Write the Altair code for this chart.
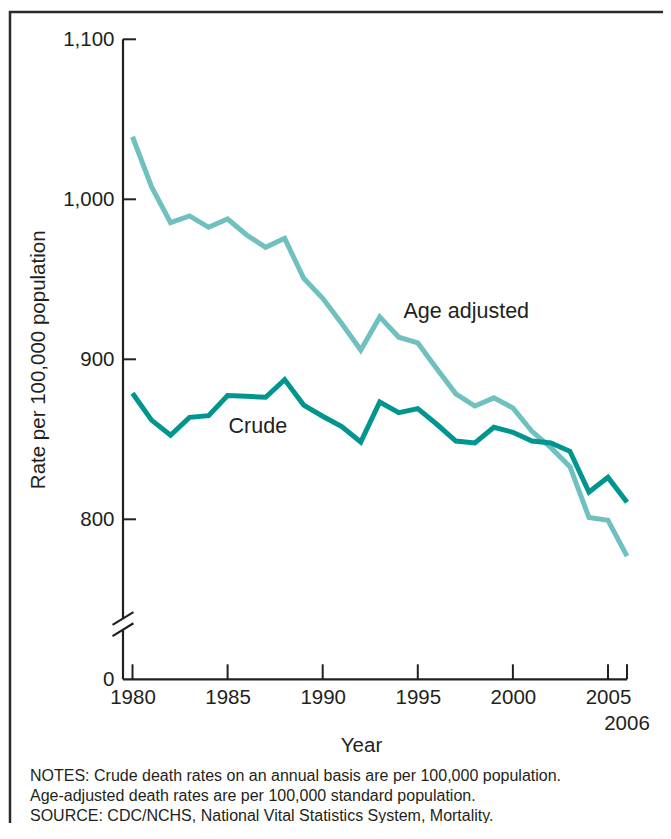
import altair as alt
import pandas as pd

# ---------------- data ----------------
years = list(range(1980, 2007))
age_adjusted = [1039.1, 1007.9, 985.4, 989.6, 982.5, 987.7, 977.7, 970.0, 975.6, 950.6,
                938.1, 922.3, 905.8, 926.5, 913.8, 910.2, 894.1, 878.4, 870.8, 875.9,
                869.6, 855.0, 844.8, 832.9, 801.2, 799.4, 777.0]
crude = [878.8, 862.0, 852.5, 863.7, 864.8, 877.3, 876.9, 876.3, 887.3, 871.4,
         864.4, 857.9, 848.3, 873.3, 866.7, 869.2, 859.4, 848.9, 847.7, 857.5,
         854.4, 848.9, 847.7, 842.5, 817.0, 826.2, 810.6]
series_names = ["Age adjusted", "Crude"]
series_colors = ["#6fc0bf", "#00968f"]

label_text = ["Age adjusted", "Crude"]
label_year = [1994.25, 1985.05]
label_value = [929.5, 857.7]

x_tick_years = [1980, 1985, 1990, 1995, 2000, 2005]
extra_tick_year = [2006]
y_tick_values = [700, 800, 900, 1000, 1100]

notes = [
    "NOTES: Crude death rates on an annual basis are per 100,000 population.",
    "Age-adjusted death rates are per 100,000 standard population.",
    "SOURCE: CDC/NCHS, National Vital Statistics System, Mortality.",
]

# ---------------- styling ----------------
FONT = "Liberation Sans"
DARK = "#231f20"
W, H = 504, 640
X0, X1 = 1979.5, 2006
Y0, Y1 = 700, 1100

df = pd.DataFrame(
    {
        "year": years * 2,
        "rate": age_adjusted + crude,
        "series": [series_names[0]] * len(years) + [series_names[1]] * len(years),
    }
)
labels_df = pd.DataFrame({"label": label_text, "year": label_year, "rate": label_value,
                          "series": series_names})

xscale = alt.Scale(domain=[X0, X1], nice=False, zero=False)
yscale = alt.Scale(domain=[Y0, Y1], nice=False, zero=False)

xaxis = alt.Axis(
    values=x_tick_years, format="d", title="Year", domain=False, ticks=False, tickSize=0,
    grid=False, labelFont=FONT, labelFontSize=20.5, labelColor=DARK, labelPadding=24.5,
    labelBaseline="alphabetic", labelFlush=False, labelOverlap=False,
    titleFont=FONT, titleFontSize=20.5, titleFontWeight="normal", titleColor=DARK,
    titleX=238, titleY=72, titleAlign="center", titleBaseline="alphabetic",
)
yaxis = alt.Axis(
    values=y_tick_values,
    labelExpr="datum.value == 700 ? '0' : format(datum.value, ',')",
    title="Rate per 100,000 population", domain=False, ticks=False, tickSize=0, grid=False,
    labelFont=FONT, labelFontSize=20.5, labelColor=DARK, labelPadding=9,
    labelFlush=False, labelOverlap=False,
    titleFont=FONT, titleFontSize=20.5, titleFontWeight="normal", titleColor=DARK,
    titleAngle=270, titleX=-85, titleY=320, titleAlign="center", titleBaseline="middle",
)


def X(field):
    return alt.X(field, type="quantitative", scale=xscale, axis=xaxis)


def Y(field):
    return alt.Y(field, type="quantitative", scale=yscale, axis=yaxis)


color = alt.Color("series:N", scale=alt.Scale(domain=series_names, range=series_colors),
                  legend=None)

# frame around the whole figure
frame = alt.Chart(pd.DataFrame({"a": [0]})).mark_rect(
    fillOpacity=0, stroke="#2b2b2b", strokeWidth=2.5
).encode(x=alt.value(-113), x2=alt.value(760), y=alt.value(-27.3), y2=alt.value(900))

# axis lines with a break on the y axis
axis_segments = pd.DataFrame(
    {
        "x": [X0, X0, X0, X0 - 0.55, X0 - 0.55],
        "x2": [X1, X0, X0, X0 + 0.55, X0 + 0.55],
        "y": [Y0, Y0, 738, 727, 734],
        "y2": [Y0, 731, Y1, 735, 742],
    }
)
axis_lines = alt.Chart(axis_segments).mark_rule(color=DARK, strokeWidth=2.2).encode(
    x=X("x"), x2="x2", y=Y("y"), y2="y2"
)

xticks = alt.Chart(pd.DataFrame({"year": x_tick_years + extra_tick_year})).mark_rule(
    color=DARK, strokeWidth=2
).encode(x=X("year"), y=alt.value(H), y2=alt.value(H - 15))

yticks = alt.Chart(pd.DataFrame({"rate": y_tick_values[1:]})).mark_rule(
    color=DARK, strokeWidth=2
).encode(y=Y("rate"), x=alt.value(0), x2=alt.value(13))

extra_label = alt.Chart(pd.DataFrame({"year": extra_tick_year, "t": ["2006"]})).mark_text(
    font=FONT, fontSize=20.5, color=DARK, align="center", baseline="alphabetic"
).encode(x=X("year"), y=alt.value(690.5), text="t:N")

lines = alt.Chart(df).mark_line(strokeWidth=5, strokeJoin="miter").encode(
    x=X("year"), y=Y("rate"), color=color, detail="series:N"
)

line_labels = alt.Chart(labels_df).mark_text(
    font=FONT, fontSize=21.5, color=DARK, align="left", baseline="middle"
).encode(x=X("year"), y=Y("rate"), text="label:N")

notes_text = alt.Chart(pd.DataFrame({"a": [0]})).mark_text(
    font=FONT, fontSize=16, color=DARK, align="left", baseline="alphabetic",
    lineHeight=20, text=notes
).encode(x=alt.value(-93), y=alt.value(741.3))

chart = alt.layer(
    frame, lines, axis_lines, xticks, yticks, extra_label, line_labels, notes_text
).properties(
    width=W, height=H,
    padding={"left": 115, "top": 31.3, "right": 36, "bottom": 143.7},
    autosize=alt.AutoSizeParams(type="none"),
    background="white",
).configure_view(stroke=None)

chart.save("out.html", embed_options={"renderer": "svg", "actions": False})
